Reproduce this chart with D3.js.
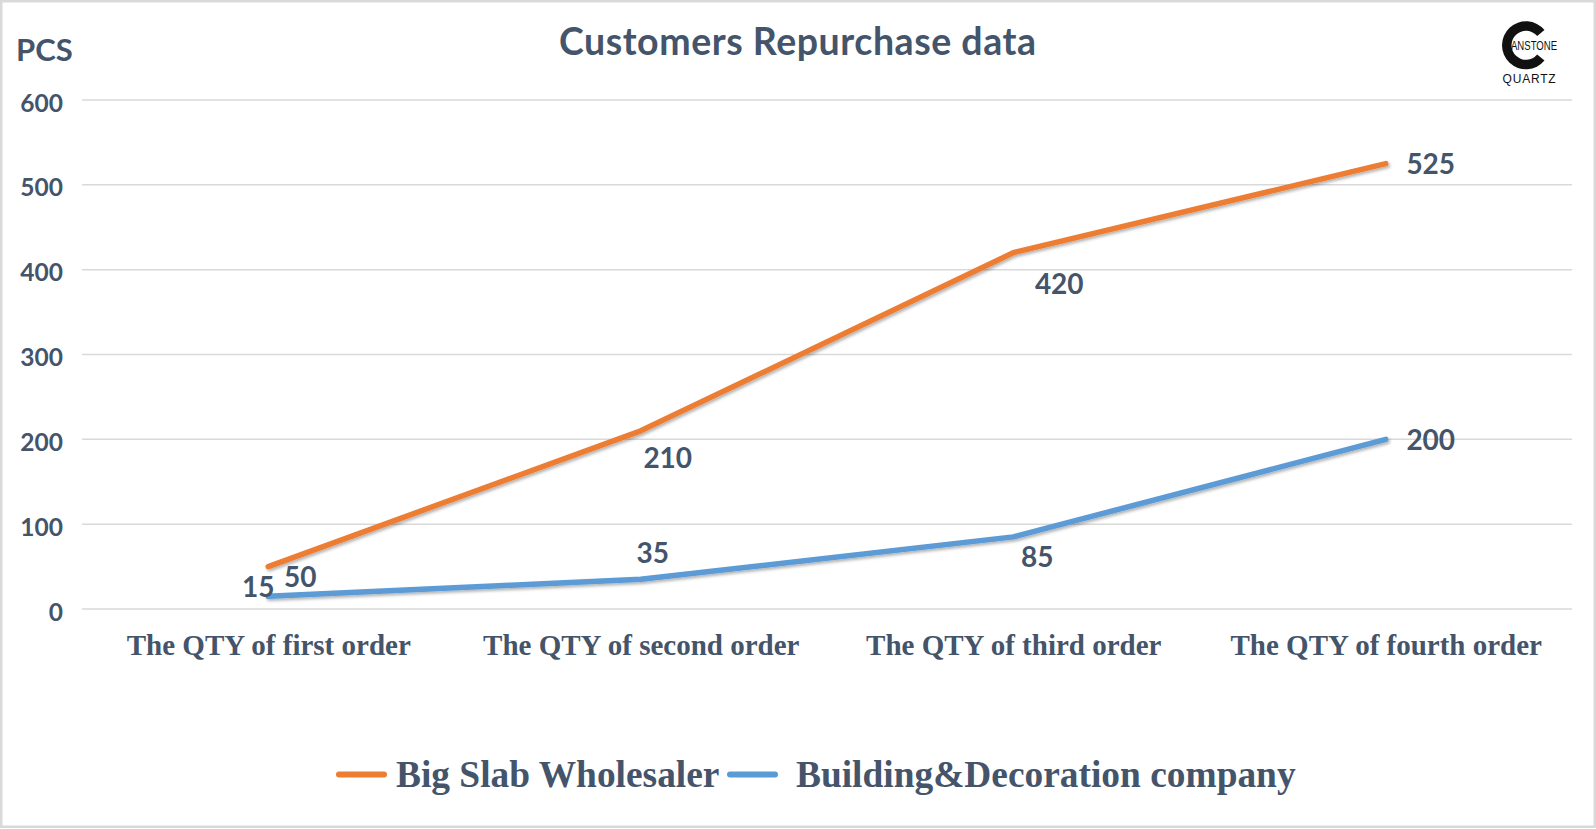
<!DOCTYPE html>
<html>
<head>
<meta charset="utf-8">
<script src="https://cdn.jsdelivr.net/npm/d3@7"></script>
<style>
  html, body { margin: 0; padding: 0; background: #fff; }
  svg { display: block; }
</style>
</head>
<body>
<svg id="chart" width="1596" height="829"></svg>
<script>
// ---- Data ----
const categories = ["The QTY of first order", "The QTY of second order", "The QTY of third order", "The QTY of fourth order"];
const bigSlabValues = [50, 210, 420, 525];
const buildingValues = [15, 35, 85, 200];
const seriesNames = ["Big Slab Wholesaler", "Building&Decoration company"];
const yTicks = [0, 100, 200, 300, 400, 500, 600];
// label offsets (dx, dy) of each data label centre from its point
const bigSlabLabelOffsets = [[32, 10], [27, 27], [46, 31], [45, 0]];
const buildingLabelOffsets = [[-10, -9], [12, -26], [24, 20], [45, 1]];

const textColor = "#44546A";
const colors = ["#ED7D31", "#5B9BD5"];

const svg = d3.select("#chart");
const W = 1596, H = 829;

// frame
svg.append("rect").attr("x", 1.25).attr("y", 1.25).attr("width", W - 2.5).attr("height", H - 3.5)
  .attr("fill", "#fff").attr("stroke", "#D9D9D9").attr("stroke-width", 2.5);

// shadow filter
const defs = svg.append("defs");
const f = defs.append("filter").attr("id", "shadow").attr("x", "-5%").attr("y", "-5%").attr("width", "110%").attr("height", "120%");
f.append("feDropShadow").attr("dx", 1.5).attr("dy", 2).attr("stdDeviation", 1.5)
  .attr("flood-color", "#000").attr("flood-opacity", 0.3);

const x = d3.scalePoint().domain(categories).range([82, 1572]).padding(0.5);
const y = d3.scaleLinear().domain([0, 600]).range([609, 100]);

// gridlines
svg.append("g").selectAll("line").data(yTicks).join("line")
  .attr("x1", 82).attr("x2", 1572)
  .attr("y1", d => y(d)).attr("y2", d => y(d))
  .attr("stroke", "#D9D9D9").attr("stroke-width", 1.5);

// y axis labels
const yAxis = d3.axisLeft(y).tickValues(yTicks).tickSize(0).tickPadding(0);
const yg = svg.append("g").attr("transform", "translate(63,0)").call(yAxis);
yg.select(".domain").remove();
yg.selectAll("text")
  .attr("font-family", "Lato, 'Open Sans', sans-serif").attr("font-weight", 700)
  .attr("font-size", 24.5).attr("fill", textColor)
  .attr("dy", null).attr("y", 11).attr("text-anchor", "end");

// x axis labels
const xAxis = d3.axisBottom(x).tickSize(0).tickPadding(0);
const xg = svg.append("g").attr("transform", "translate(0,609)").call(xAxis);
xg.select(".domain").remove();
xg.selectAll("text")
  .attr("font-family", "'Liberation Serif', 'Times New Roman', serif").attr("font-weight", 700)
  .attr("font-size", 29).attr("fill", textColor)
  .attr("dy", null).attr("y", 46);

// lines
const line = d3.line().x((d, i) => x(categories[i])).y(d => y(d)).curve(d3.curveLinear);
const allSeries = [bigSlabValues, buildingValues];
const allOffsets = [bigSlabLabelOffsets, buildingLabelOffsets];
svg.append("g").selectAll("path").data(allSeries).join("path")
  .attr("d", d => line(d))
  .attr("fill", "none")
  .attr("stroke", (d, i) => colors[i])
  .attr("stroke-width", 5.5)
  .attr("stroke-linecap", "round")
  .attr("stroke-linejoin", "round")
  .attr("filter", "url(#shadow)");

// data labels
allSeries.forEach((vals, si) => {
  svg.append("g").selectAll("text").data(vals).join("text")
    .attr("x", (d, i) => x(categories[i]) + allOffsets[si][i][0])
    .attr("y", (d, i) => y(d) + allOffsets[si][i][1] + 10)
    .attr("text-anchor", "middle")
    .attr("font-family", "Lato, 'Open Sans', sans-serif").attr("font-weight", 700)
    .attr("font-size", 28).attr("fill", textColor)
    .text(d => d);
});

// title
svg.append("text").attr("x", 797.5).attr("y", 55).attr("text-anchor", "middle")
  .attr("font-family", "Lato, 'Open Sans', sans-serif").attr("font-weight", 700)
  .attr("font-size", 37.5).attr("fill", textColor)
  .attr("textLength", 477).attr("lengthAdjust", "spacing")
  .text("Customers Repurchase data");

// y unit
svg.append("text").attr("x", 16).attr("y", 61)
  .attr("font-family", "Lato, 'Open Sans', sans-serif").attr("font-weight", 700)
  .attr("font-size", 31).attr("fill", textColor)
  .text("PCS");

// legend
const legend = svg.append("g");
const legendItems = [
  { name: seriesNames[0], color: colors[0], x1: 339, x2: 384, tx: 396 },
  { name: seriesNames[1], color: colors[1], x1: 730, x2: 775, tx: 796 }
];
legendItems.forEach(it => {
  legend.append("line").attr("x1", it.x1).attr("x2", it.x2).attr("y1", 774.5).attr("y2", 774.5)
    .attr("stroke", it.color).attr("stroke-width", 6).attr("stroke-linecap", "round");
  legend.append("text").attr("x", it.tx).attr("y", 786.5)
    .attr("font-family", "'Liberation Serif', 'Times New Roman', serif").attr("font-weight", 700)
    .attr("font-size", 37.4).attr("fill", textColor)
    .text(it.name);
});

// logo
const logo = svg.append("g");
const cArc = d3.arc().innerRadius(14.5).outerRadius(24).startAngle(0.72 * Math.PI).endAngle(2.28 * Math.PI);
logo.append("path").attr("transform", "translate(1526,45.3)").attr("d", cArc()).attr("fill", "#111");
logo.append("text").attr("x", 1534).attr("y", 49.5).attr("text-anchor", "middle")
  .attr("font-family", "'Liberation Sans Narrow', 'Liberation Sans', Arial, sans-serif")
  .attr("font-size", 12).attr("fill", "#111").attr("textLength", 46).attr("lengthAdjust", "spacingAndGlyphs")
  .text("ANSTONE");
logo.append("text").attr("x", 1529.5).attr("y", 82.7).attr("text-anchor", "middle")
  .attr("font-family", "'Liberation Sans', Arial, sans-serif")
  .attr("font-size", 12).attr("letter-spacing", 0.8).attr("fill", "#111").text("QUARTZ");
</script>
</body>
</html>
